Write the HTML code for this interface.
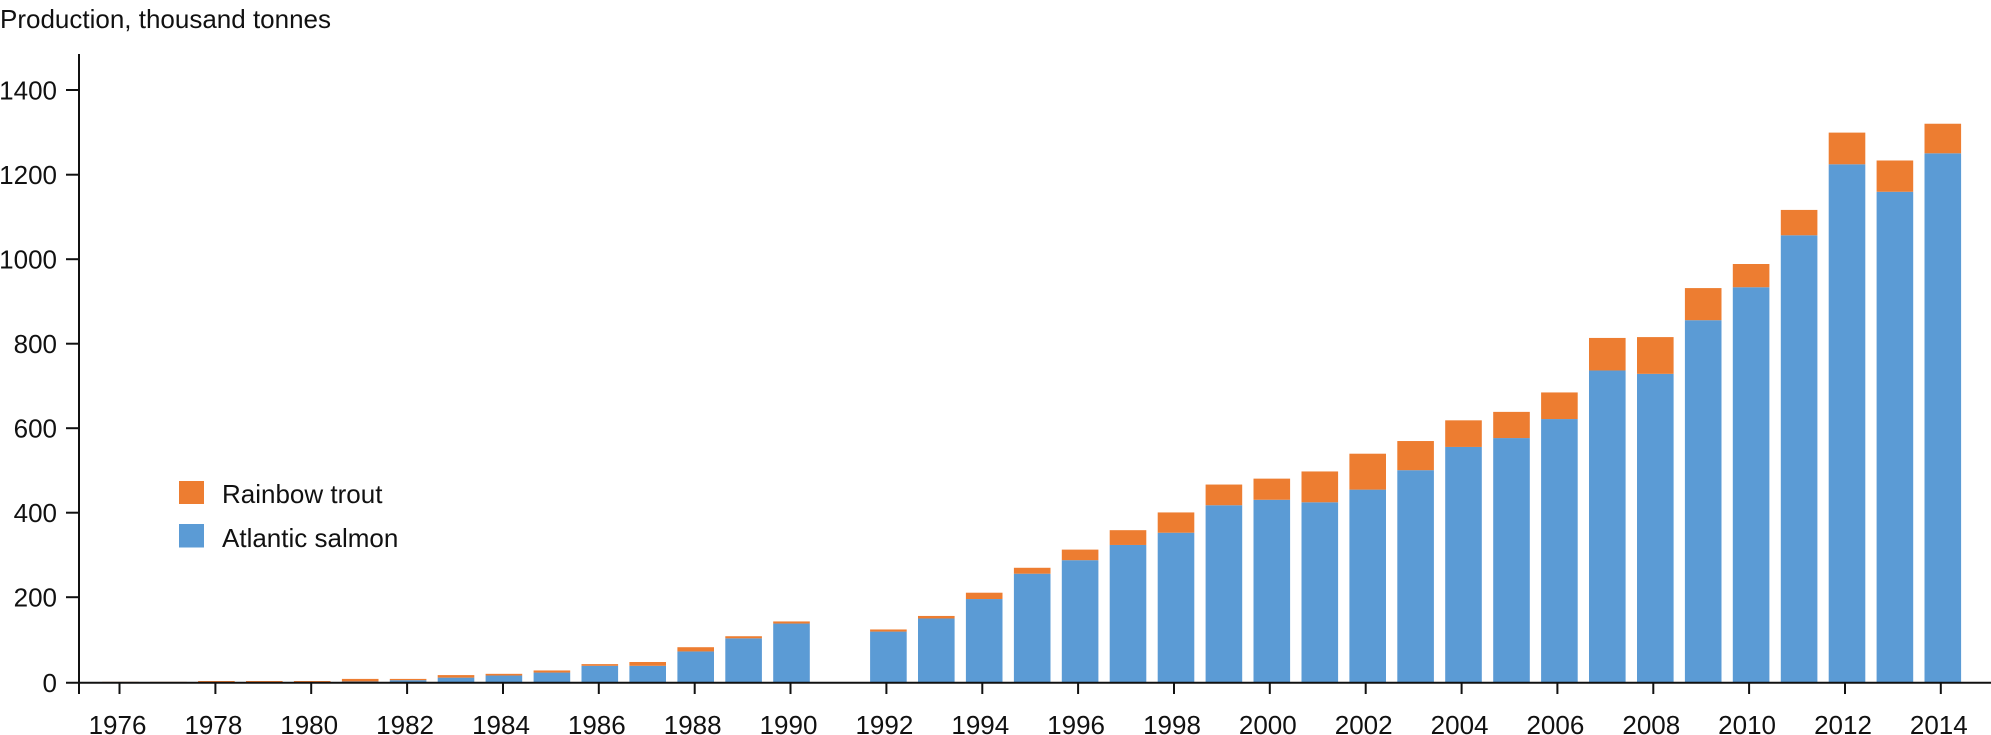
<!DOCTYPE html>
<html><head><meta charset="utf-8"><style>
html,body{margin:0;padding:0;background:#fff;}
svg{display:block;}
text{font-family:"Liberation Sans",sans-serif;fill:#111;}
</style></head><body>
<svg width="1991" height="735" viewBox="0 0 1991 735" xmlns="http://www.w3.org/2000/svg">
<text x="0" y="28" font-size="26">Production, thousand tonnes</text>
<line x1="79" y1="54" x2="79" y2="694" stroke="#111" stroke-width="2"/>
<g stroke="#111" stroke-width="2">
<line x1="66" y1="90" x2="79" y2="90"/>
<line x1="66" y1="174.7" x2="79" y2="174.7"/>
<line x1="66" y1="259.2" x2="79" y2="259.2"/>
<line x1="66" y1="343.7" x2="79" y2="343.7"/>
<line x1="66" y1="428.2" x2="79" y2="428.2"/>
<line x1="66" y1="512.7" x2="79" y2="512.7"/>
<line x1="66" y1="597.2" x2="79" y2="597.2"/>
</g>
<g font-size="26" text-anchor="end">
<text x="57" y="99.5">1400</text>
<text x="57" y="184">1200</text>
<text x="57" y="268.5">1000</text>
<text x="57" y="353">800</text>
<text x="57" y="437.5">600</text>
<text x="57" y="522">400</text>
<text x="57" y="606.5">200</text>
<text x="57" y="692">0</text>
</g>
<g>
<g transform="translate(102.2,682.7) scale(1,-0.4225)"><rect width="36.6" height="1" fill="#5b9bd5"/><rect y="1" width="36.6" height="1" fill="#ed7d31"/></g>
<g transform="translate(150.1,682.7) scale(1,-0.4225)"><rect width="36.6" height="1" fill="#5b9bd5"/><rect y="1" width="36.6" height="1" fill="#ed7d31"/></g>
<g transform="translate(198.1,682.7) scale(1,-0.4225)"><rect width="36.6" height="1" fill="#5b9bd5"/><rect y="1" width="36.6" height="3" fill="#ed7d31"/></g>
<g transform="translate(246.0,682.7) scale(1,-0.4225)"><rect width="36.6" height="1" fill="#5b9bd5"/><rect y="1" width="36.6" height="3" fill="#ed7d31"/></g>
<g transform="translate(293.9,682.7) scale(1,-0.4225)"><rect width="36.6" height="1" fill="#5b9bd5"/><rect y="1" width="36.6" height="3" fill="#ed7d31"/></g>
<g transform="translate(341.9,682.7) scale(1,-0.4225)"><rect width="36.6" height="3" fill="#5b9bd5"/><rect y="3" width="36.6" height="6" fill="#ed7d31"/></g>
<g transform="translate(389.8,682.7) scale(1,-0.4225)"><rect width="36.6" height="6" fill="#5b9bd5"/><rect y="6" width="36.6" height="3" fill="#ed7d31"/></g>
<g transform="translate(437.7,682.7) scale(1,-0.4225)"><rect width="36.6" height="12" fill="#5b9bd5"/><rect y="12" width="36.6" height="6" fill="#ed7d31"/></g>
<g transform="translate(485.6,682.7) scale(1,-0.4225)"><rect width="36.6" height="17" fill="#5b9bd5"/><rect y="17" width="36.6" height="4" fill="#ed7d31"/></g>
<g transform="translate(533.6,682.7) scale(1,-0.4225)"><rect width="36.6" height="24" fill="#5b9bd5"/><rect y="24" width="36.6" height="5" fill="#ed7d31"/></g>
<g transform="translate(581.5,682.7) scale(1,-0.4225)"><rect width="36.6" height="40" fill="#5b9bd5"/><rect y="40" width="36.6" height="4" fill="#ed7d31"/></g>
<g transform="translate(629.4,682.7) scale(1,-0.4225)"><rect width="36.6" height="40" fill="#5b9bd5"/><rect y="40" width="36.6" height="9" fill="#ed7d31"/></g>
<g transform="translate(677.4,682.7) scale(1,-0.4225)"><rect width="36.6" height="74" fill="#5b9bd5"/><rect y="74" width="36.6" height="10" fill="#ed7d31"/></g>
<g transform="translate(725.3,682.7) scale(1,-0.4225)"><rect width="36.6" height="105" fill="#5b9bd5"/><rect y="105" width="36.6" height="5" fill="#ed7d31"/></g>
<g transform="translate(773.2,682.7) scale(1,-0.4225)"><rect width="36.6" height="140" fill="#5b9bd5"/><rect y="140" width="36.6" height="5" fill="#ed7d31"/></g>
<g transform="translate(870.1,682.7) scale(1,-0.4225)"><rect width="36.6" height="121" fill="#5b9bd5"/><rect y="121" width="36.6" height="5" fill="#ed7d31"/></g>
<g transform="translate(918.0,682.7) scale(1,-0.4225)"><rect width="36.6" height="152" fill="#5b9bd5"/><rect y="152" width="36.6" height="6" fill="#ed7d31"/></g>
<g transform="translate(965.9,682.7) scale(1,-0.4225)"><rect width="36.6" height="198" fill="#5b9bd5"/><rect y="198" width="36.6" height="15" fill="#ed7d31"/></g>
<g transform="translate(1013.9,682.7) scale(1,-0.4225)"><rect width="36.6" height="258" fill="#5b9bd5"/><rect y="258" width="36.6" height="14" fill="#ed7d31"/></g>
<g transform="translate(1061.8,682.7) scale(1,-0.4225)"><rect width="36.6" height="290" fill="#5b9bd5"/><rect y="290" width="36.6" height="25" fill="#ed7d31"/></g>
<g transform="translate(1109.7,682.7) scale(1,-0.4225)"><rect width="36.6" height="326" fill="#5b9bd5"/><rect y="326" width="36.6" height="35" fill="#ed7d31"/></g>
<g transform="translate(1157.7,682.7) scale(1,-0.4225)"><rect width="36.6" height="355" fill="#5b9bd5"/><rect y="355" width="36.6" height="48" fill="#ed7d31"/></g>
<g transform="translate(1205.6,682.7) scale(1,-0.4225)"><rect width="36.6" height="420" fill="#5b9bd5"/><rect y="420" width="36.6" height="49" fill="#ed7d31"/></g>
<g transform="translate(1253.5,682.7) scale(1,-0.4225)"><rect width="36.6" height="433" fill="#5b9bd5"/><rect y="433" width="36.6" height="50" fill="#ed7d31"/></g>
<g transform="translate(1301.5,682.7) scale(1,-0.4225)"><rect width="36.6" height="427" fill="#5b9bd5"/><rect y="427" width="36.6" height="73" fill="#ed7d31"/></g>
<g transform="translate(1349.4,682.7) scale(1,-0.4225)"><rect width="36.6" height="457" fill="#5b9bd5"/><rect y="457" width="36.6" height="85" fill="#ed7d31"/></g>
<g transform="translate(1397.3,682.7) scale(1,-0.4225)"><rect width="36.6" height="503" fill="#5b9bd5"/><rect y="503" width="36.6" height="69" fill="#ed7d31"/></g>
<g transform="translate(1445.2,682.7) scale(1,-0.4225)"><rect width="36.6" height="558" fill="#5b9bd5"/><rect y="558" width="36.6" height="63" fill="#ed7d31"/></g>
<g transform="translate(1493.2,682.7) scale(1,-0.4225)"><rect width="36.6" height="579" fill="#5b9bd5"/><rect y="579" width="36.6" height="62" fill="#ed7d31"/></g>
<g transform="translate(1541.1,682.7) scale(1,-0.4225)"><rect width="36.6" height="624" fill="#5b9bd5"/><rect y="624" width="36.6" height="63" fill="#ed7d31"/></g>
<g transform="translate(1589.0,682.7) scale(1,-0.4225)"><rect width="36.6" height="739" fill="#5b9bd5"/><rect y="739" width="36.6" height="77" fill="#ed7d31"/></g>
<g transform="translate(1637.0,682.7) scale(1,-0.4225)"><rect width="36.6" height="731" fill="#5b9bd5"/><rect y="731" width="36.6" height="87" fill="#ed7d31"/></g>
<g transform="translate(1684.9,682.7) scale(1,-0.4225)"><rect width="36.6" height="858" fill="#5b9bd5"/><rect y="858" width="36.6" height="76" fill="#ed7d31"/></g>
<g transform="translate(1732.8,682.7) scale(1,-0.4225)"><rect width="36.6" height="936" fill="#5b9bd5"/><rect y="936" width="36.6" height="55" fill="#ed7d31"/></g>
<g transform="translate(1780.8,682.7) scale(1,-0.4225)"><rect width="36.6" height="1059" fill="#5b9bd5"/><rect y="1059" width="36.6" height="60" fill="#ed7d31"/></g>
<g transform="translate(1828.7,682.7) scale(1,-0.4225)"><rect width="36.6" height="1227" fill="#5b9bd5"/><rect y="1227" width="36.6" height="75" fill="#ed7d31"/></g>
<g transform="translate(1876.6,682.7) scale(1,-0.4225)"><rect width="36.6" height="1162" fill="#5b9bd5"/><rect y="1162" width="36.6" height="74" fill="#ed7d31"/></g>
<g transform="translate(1924.5,682.7) scale(1,-0.4225)"><rect width="36.6" height="1253" fill="#5b9bd5"/><rect y="1253" width="36.6" height="70" fill="#ed7d31"/></g>
</g>
<line x1="66" y1="682.7" x2="1991" y2="682.7" stroke="#111" stroke-width="2"/>
<g stroke="#111" stroke-width="2">
<line x1="119.5" y1="682" x2="119.5" y2="694"/>
<line x1="215.4" y1="682" x2="215.4" y2="694"/>
<line x1="311.2" y1="682" x2="311.2" y2="694"/>
<line x1="407.1" y1="682" x2="407.1" y2="694"/>
<line x1="503.0" y1="682" x2="503.0" y2="694"/>
<line x1="598.8" y1="682" x2="598.8" y2="694"/>
<line x1="694.7" y1="682" x2="694.7" y2="694"/>
<line x1="790.5" y1="682" x2="790.5" y2="694"/>
<line x1="886.4" y1="682" x2="886.4" y2="694"/>
<line x1="982.3" y1="682" x2="982.3" y2="694"/>
<line x1="1078.1" y1="682" x2="1078.1" y2="694"/>
<line x1="1174.0" y1="682" x2="1174.0" y2="694"/>
<line x1="1269.8" y1="682" x2="1269.8" y2="694"/>
<line x1="1365.7" y1="682" x2="1365.7" y2="694"/>
<line x1="1461.6" y1="682" x2="1461.6" y2="694"/>
<line x1="1557.4" y1="682" x2="1557.4" y2="694"/>
<line x1="1653.3" y1="682" x2="1653.3" y2="694"/>
<line x1="1749.1" y1="682" x2="1749.1" y2="694"/>
<line x1="1845.0" y1="682" x2="1845.0" y2="694"/>
<line x1="1940.8" y1="682" x2="1940.8" y2="694"/>
</g>
<g font-size="26" text-anchor="middle">
<text x="117.5" y="734">1976</text>
<text x="213.4" y="734">1978</text>
<text x="309.2" y="734">1980</text>
<text x="405.1" y="734">1982</text>
<text x="501.0" y="734">1984</text>
<text x="596.8" y="734">1986</text>
<text x="692.7" y="734">1988</text>
<text x="788.5" y="734">1990</text>
<text x="884.4" y="734">1992</text>
<text x="980.3" y="734">1994</text>
<text x="1076.1" y="734">1996</text>
<text x="1172.0" y="734">1998</text>
<text x="1267.8" y="734">2000</text>
<text x="1363.7" y="734">2002</text>
<text x="1459.6" y="734">2004</text>
<text x="1555.4" y="734">2006</text>
<text x="1651.3" y="734">2008</text>
<text x="1747.1" y="734">2010</text>
<text x="1843.0" y="734">2012</text>
<text x="1938.8" y="734">2014</text>
</g>
<rect x="179" y="481" width="25" height="23" fill="#ed7d31"/>
<rect x="179" y="524" width="25" height="23.5" fill="#5b9bd5"/>
<text x="222" y="503" font-size="26">Rainbow trout</text>
<text x="222" y="547" font-size="26">Atlantic salmon</text>
</svg>
</body></html>
